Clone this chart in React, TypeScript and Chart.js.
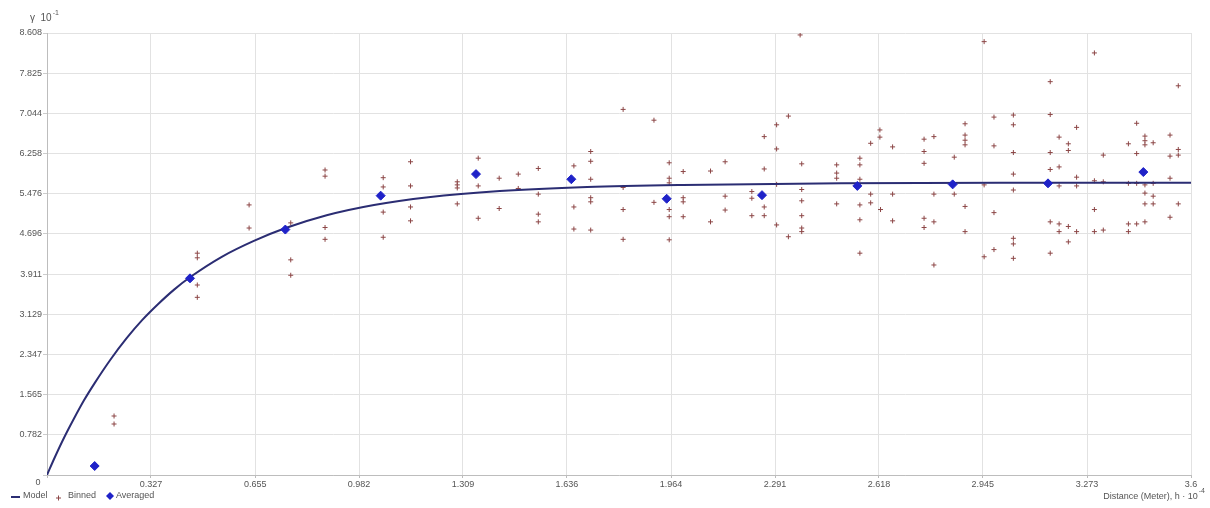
import { useEffect, useRef } from 'react';
import { Chart, registerables } from 'chart.js';

Chart.register(...registerables);

// Axis tick labels (evenly spaced, 11 intervals)
const xTickLabels = ['0', '0.327', '0.655', '0.982', '1.309', '1.636', '1.964', '2.291', '2.618', '2.945', '3.273', '3.6'];
const yTickLabels = ['0', '0.782', '1.565', '2.347', '3.129', '3.911', '4.696', '5.476', '6.258', '7.044', '7.825', '8.608'];
const xMax = 3.6;
const yMax = 8.608;

// Model curve
const modelH = [0, 0.025, 0.054, 0.085, 0.116, 0.15, 0.2, 0.25, 0.3, 0.35, 0.4, 0.452, 0.55, 0.651, 0.751, 0.88, 1.029, 1.2, 1.425, 1.7, 2.0, 2.5, 3.0, 3.6];
const modelG = [0, 0.35, 0.73, 1.1, 1.45, 1.79, 2.25, 2.66, 3.02, 3.33, 3.61, 3.86, 4.25, 4.56, 4.81, 5.06, 5.26, 5.41, 5.53, 5.61, 5.65, 5.68, 5.69, 5.69];

// Averaged values
const averagedH = [0.15, 0.45, 0.75, 1.05, 1.35, 1.65, 1.95, 2.25, 2.55, 2.85, 3.15, 3.45];
const averagedG = [0.175, 3.83, 4.78, 5.44, 5.86, 5.76, 5.38, 5.45, 5.63, 5.66, 5.68, 5.9];

// Binned values [h, gamma]
const binned: [number, number][] = [
  [0.211, 1.149], [0.211, 0.993],
  [0.473, 4.32], [0.473, 4.23], [0.473, 3.7], [0.473, 3.46],
  [0.636, 5.26], [0.636, 4.81], [0.767, 4.91], [0.767, 4.19], [0.767, 3.89],
  [0.875, 5.94], [0.875, 5.82], [0.875, 4.82], [0.875, 4.59],
  [1.058, 5.79], [1.058, 5.61], [1.058, 5.12], [1.058, 4.63],
  [1.144, 6.1], [1.144, 5.63], [1.144, 5.22], [1.144, 4.95],
  [1.291, 5.71], [1.291, 5.65], [1.291, 5.59], [1.291, 5.28],
  [1.357, 6.17], [1.357, 5.63], [1.357, 5.0], [1.423, 5.78], [1.423, 5.19],
  [1.483, 5.86], [1.483, 5.58], [1.546, 5.97], [1.546, 5.47], [1.546, 5.08], [1.546, 4.93],
  [1.658, 6.02], [1.658, 5.22], [1.658, 4.79],
  [1.711, 6.3], [1.711, 6.11], [1.711, 5.76], [1.711, 5.4], [1.711, 5.32], [1.711, 4.77],
  [1.813, 7.12], [1.813, 5.6], [1.813, 5.17], [1.813, 4.59],
  [1.91, 6.91], [1.91, 5.31],
  [1.958, 6.08], [1.958, 5.78], [1.958, 5.69], [1.958, 5.17], [1.958, 5.03], [1.958, 4.58],
  [2.002, 5.91], [2.002, 5.4], [2.002, 5.32], [2.002, 5.03],
  [2.088, 5.92], [2.088, 4.93], [2.134, 6.1], [2.134, 5.43], [2.134, 5.16],
  [2.218, 5.52], [2.218, 5.39], [2.218, 5.05],
  [2.257, 6.59], [2.257, 5.96], [2.257, 5.22], [2.257, 5.05],
  [2.296, 6.82], [2.296, 6.35], [2.296, 5.66], [2.296, 4.87],
  [2.333, 6.99], [2.333, 4.64], [2.37, 8.57],
  [2.375, 6.06], [2.375, 5.56], [2.375, 5.34], [2.375, 5.05], [2.375, 4.81], [2.375, 4.74],
  [2.485, 6.04], [2.485, 5.88], [2.485, 5.78], [2.485, 5.28],
  [2.558, 6.17], [2.558, 6.04], [2.558, 5.76], [2.558, 5.26], [2.558, 4.97], [2.558, 4.32],
  [2.592, 6.46], [2.592, 5.47], [2.592, 5.3],
  [2.621, 6.72], [2.621, 6.58], [2.623, 5.17],
  [2.661, 6.39], [2.661, 5.47], [2.661, 4.95],
  [2.76, 6.54], [2.76, 6.3], [2.76, 6.07], [2.76, 5.0], [2.76, 4.82],
  [2.791, 6.59], [2.791, 5.47], [2.791, 4.93], [2.791, 4.09],
  [2.855, 6.19], [2.855, 5.47],
  [2.889, 6.84], [2.889, 6.62], [2.889, 6.52], [2.889, 6.43], [2.889, 5.23], [2.889, 4.74],
  [2.949, 8.44], [2.949, 5.65], [2.949, 4.25],
  [2.98, 6.97], [2.98, 6.41], [2.98, 5.11], [2.98, 4.39],
  [3.041, 7.01], [3.041, 6.82], [3.041, 6.28], [3.041, 5.86], [3.041, 5.55], [3.041, 4.61], [3.041, 4.5], [3.041, 4.22],
  [3.157, 7.66], [3.157, 7.02], [3.157, 6.28], [3.157, 5.95], [3.157, 4.93], [3.157, 4.32],
  [3.185, 6.58], [3.185, 6.0], [3.185, 5.63], [3.185, 4.89], [3.185, 4.74],
  [3.214, 6.45], [3.214, 6.32], [3.214, 4.84], [3.214, 4.54],
  [3.24, 6.77], [3.24, 5.8], [3.24, 5.63], [3.24, 4.74],
  [3.296, 8.22], [3.296, 5.73], [3.296, 5.17], [3.296, 4.74],
  [3.324, 6.23], [3.324, 5.71], [3.324, 4.77],
  [3.403, 6.45], [3.403, 5.68], [3.403, 4.89], [3.403, 4.74],
  [3.429, 6.85], [3.429, 6.26], [3.429, 5.68], [3.429, 4.89],
  [3.455, 6.6], [3.455, 6.51], [3.455, 6.43], [3.455, 5.65], [3.455, 5.49], [3.455, 5.28], [3.455, 4.93],
  [3.481, 6.47], [3.481, 5.68], [3.481, 5.43], [3.481, 5.28],
  [3.534, 6.62], [3.534, 6.21], [3.534, 5.78], [3.534, 5.02],
  [3.56, 7.58], [3.56, 6.34], [3.56, 6.23], [3.56, 5.28],
];

const legendLabels = ['Model', 'Binned', 'Averaged'];
const yAxisTitle = 'γ  10';
const yAxisExp = '-1';
const xAxisTitle = 'Distance (Meter), h · 10';
const xAxisExp = '-4';

const MODEL_COLOR = '#2b2d73';
const BINNED_COLOR = '#8c4646';
const AVG_COLOR = '#1f22c8';
const TEXT_COLOR = '#555';
const FONT = '"Liberation Sans", Arial, sans-serif';

const textPlugin = {
  id: 'extraTexts',
  afterDraw(chart: any) {
    const ctx = chart.ctx as CanvasRenderingContext2D;
    ctx.save();
    ctx.fillStyle = TEXT_COLOR;
    ctx.textBaseline = 'middle';
    // corner zero
    ctx.font = `9px ${FONT}`;
    ctx.textAlign = 'center';
    ctx.fillText('0', 38, 483);
    // y axis title
    ctx.textAlign = 'left';
    ctx.font = `10px ${FONT}`;
    ctx.fillText(yAxisTitle, 30, 18);
    const w1 = ctx.measureText(yAxisTitle).width;
    ctx.font = `7px ${FONT}`;
    ctx.fillText(yAxisExp, 30 + w1 + 1, 13);
    // x axis title (right aligned)
    ctx.font = `7px ${FONT}`;
    const wExp = ctx.measureText(xAxisExp).width;
    ctx.fillText(xAxisExp, 1205 - wExp, 491);
    ctx.font = `9px ${FONT}`;
    ctx.textAlign = 'right';
    ctx.fillText(xAxisTitle, 1205 - wExp - 1, 497);
    // legend
    ctx.textAlign = 'left';
    ctx.font = `9px ${FONT}`;
    const ly = 496;
    ctx.strokeStyle = MODEL_COLOR;
    ctx.lineWidth = 2;
    ctx.beginPath();
    ctx.moveTo(11, ly + 1);
    ctx.lineTo(20, ly + 1);
    ctx.stroke();
    ctx.fillText(legendLabels[0], 23, ly);
    ctx.strokeStyle = BINNED_COLOR;
    ctx.lineWidth = 1;
    ctx.beginPath();
    ctx.moveTo(56, ly + 2);
    ctx.lineTo(61, ly + 2);
    ctx.moveTo(58.5, ly - 0.5);
    ctx.lineTo(58.5, ly + 4.5);
    ctx.stroke();
    ctx.fillText(legendLabels[1], 68, ly);
    ctx.fillStyle = AVG_COLOR;
    ctx.beginPath();
    ctx.moveTo(110, ly - 4);
    ctx.lineTo(114, ly);
    ctx.lineTo(110, ly + 4);
    ctx.lineTo(106, ly);
    ctx.closePath();
    ctx.fill();
    ctx.fillStyle = TEXT_COLOR;
    ctx.fillText(legendLabels[2], 116, ly);
    ctx.restore();
  },
};

export default function App() {
  const canvasRef = useRef<HTMLCanvasElement | null>(null);

  useEffect(() => {
    document.body.style.margin = '0';
    const canvas = canvasRef.current;
    if (!canvas) return;
    const chart = new Chart(canvas, {
      type: 'scatter',
      data: {
        datasets: [
          {
            type: 'line',
            label: 'Model',
            data: modelH.map((h, i) => ({ x: h, y: modelG[i] })),
            borderColor: MODEL_COLOR,
            borderWidth: 2,
            pointRadius: 0,
            cubicInterpolationMode: 'monotone',
            fill: false,
            order: 2,
          } as any,
          {
            label: 'Binned',
            data: binned.map(([h, g]) => ({ x: h, y: g })),
            pointStyle: 'cross',
            pointRadius: 2.5,
            borderWidth: 1,
            borderColor: BINNED_COLOR,
            backgroundColor: BINNED_COLOR,
            order: 3,
          },
          {
            label: 'Averaged',
            data: averagedH.map((h, i) => ({ x: h, y: averagedG[i] })),
            pointStyle: 'rectRot',
            pointRadius: 4.5,
            borderWidth: 1,
            borderColor: AVG_COLOR,
            backgroundColor: AVG_COLOR,
            order: 1,
          },
        ],
      },
      options: {
        animation: false,
        responsive: false,
        events: [],
        layout: { padding: { left: 0, right: 19, top: 33, bottom: 0 } },
        plugins: {
          legend: { display: false },
          tooltip: { enabled: false },
          title: { display: false },
        },
        scales: {
          x: {
            type: 'linear',
            min: 0,
            max: xMax,
            afterFit: (scale: any) => {
              scale.height = 33;
            },
            afterBuildTicks: (scale: any) => {
              scale.ticks = xTickLabels.map((l) => ({ value: Number(l) }));
            },
            ticks: {
              autoSkip: false,
              maxRotation: 0,
              padding: 1,
              color: TEXT_COLOR,
              font: { size: 9, family: FONT },
              callback: (_v: any, i: number) => (i === 0 ? '' : xTickLabels[i]),
            },
            grid: { color: '#e2e2e2', tickLength: 3, tickColor: '#bbb' },
            border: { color: '#bdbdbd' },
          },
          y: {
            type: 'linear',
            min: 0,
            max: yMax,
            afterFit: (scale: any) => {
              scale.width = 47;
            },
            afterBuildTicks: (scale: any) => {
              scale.ticks = yTickLabels.map((l) => ({ value: Number(l) }));
            },
            ticks: {
              autoSkip: false,
              padding: 1,
              color: TEXT_COLOR,
              font: { size: 9, family: FONT },
              callback: (_v: any, i: number) => (i === 0 ? '' : yTickLabels[i]),
            },
            grid: { color: '#e2e2e2', tickLength: 4, tickColor: '#ccc' },
            border: { color: '#bdbdbd' },
          },
        },
      },
      plugins: [textPlugin],
    });
    return () => chart.destroy();
  }, []);

  return (
    <div style={{ width: 1210, height: 508 }}>
      <canvas ref={canvasRef} width={1210} height={508} style={{ display: 'block' }} />
    </div>
  );
}
